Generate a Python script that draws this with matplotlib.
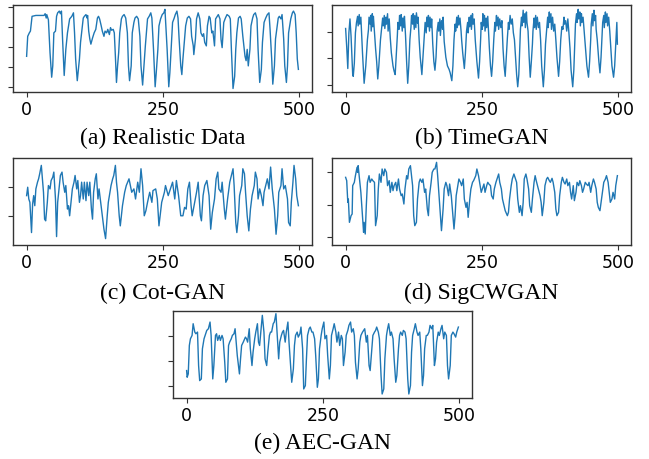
import matplotlib
matplotlib.use("Agg")
import matplotlib.pyplot as plt

titles = ["(a) Realistic Data", "(b) TimeGAN", "(c) Cot-GAN", "(d) SigCWGAN", "(e) AEC-GAN"]
xticks = [0, 250, 500]

realistic = [(0,41),(2,64),(5,68),(7,70),(10,87),(17,88),(26,88),(32,88),(34,90),(36,85),(37,89),(40,83),(43,45),(46,17),(48,30),(50,68),(53,70),(55,87),(57,91),(60,93),(62,90),(64,93),(66,61),(69,19),(72,49),(75,68),(77,76),(79,84),(83,87),(86,91),(88,68),(90,38),(93,13),(97,38),(99,57),(101,68),(104,85),(106,87),(109,89),(111,85),(112,88),(114,70),(116,61),(118,55),(121,62),(124,68),(127,72),(130,85),(132,87),(134,84),(137,76),(139,70),(142,64),(144,70),(147,68),(149,72),(152,66),(154,74),(156,71),(159,72),(161,68),(163,41),(165,11),(167,30),(169,45),(171,68),(174,84),(176,87),(179,89),(182,85),(185,68),(187,30),(189,13),(192,30),(194,68),(197,80),(199,85),(202,87),(205,84),(208,64),(210,30),(213,8),(215,26),(218,53),(220,68),(222,84),(225,87),(228,91),(230,85),(233,49),(236,6),(238,22),(241,49),(243,76),(246,84),(249,89),(252,91),(254,95),(255,84),(258,49),(261,6),(263,22),(266,57),(268,80),(271,85),(273,89),(276,93),(278,85),(280,61),(283,30),(285,20),(287,38),(290,61),(292,76),(295,85),(298,87),(301,84),(303,64),(306,53),(307,43),(310,61),(312,84),(315,91),(318,84),(320,68),(323,64),(325,67),(327,57),(330,53),(332,76),(335,87),(337,85),(340,68),(342,70),(345,53),(347,84),(350,87),(352,89),(355,84),(357,60),(359,51),(362,80),(365,85),(368,89),(372,87),(374,84),(376,49),(379,4),(382,18),(384,49),(386,68),(389,85),(392,87),(394,84),(397,64),(399,53),(401,41),(403,36),(405,49),(407,30),(410,49),(412,76),(415,85),(417,89),(420,91),(423,84),(425,49),(428,11),(431,26),(433,57),(436,80),(439,85),(442,89),(445,91),(447,72),(450,38),(452,9),(455,30),(457,61),(460,76),(462,85),(464,87),(467,84),(469,89),(472,61),(474,30),(477,11),(479,30),(481,68),(485,84),(488,91),(490,93),(493,89),(495,68),(497,38),(499,26)]

timegan = [(0,73),(2,52),(4,27),(6,68),(8,84),(10,64),(13,20),(14,18),(16,33),(18,68),(20,80),(22,87),(23,76),(25,89),(26,78),(28,86),(29,72),(31,45),(34,10),(37,30),(40,60),(42,72),(43,86),(45,78),(46,88),(47,70),(49,90),(50,75),(51,87),(53,68),(55,50),(57,35),(59,15),(61,30),(64,60),(66,72),(68,85),(69,76),(71,88),(72,73),(74,86),(75,78),(77,90),(78,70),(80,84),(82,62),(84,45),(87,30),(89,24),(91,20),(93,42),(95,65),(96,80),(98,72),(99,88),(101,76),(102,89),(104,70),(105,85),(107,74),(108,87),(110,65),(112,35),(114,10),(116,30),(118,60),(120,75),(121,88),(123,78),(124,90),(126,72),(127,88),(129,74),(130,91),(132,79),(133,86),(135,60),(137,40),(140,20),(142,40),(144,58),(146,80),(148,68),(149,86),(151,75),(152,88),(154,70),(155,86),(157,74),(158,84),(160,55),(162,35),(164,25),(166,40),(168,70),(170,80),(171,70),(173,84),(174,65),(176,82),(178,72),(179,86),(181,58),(184,40),(187,30),(190,26),(192,22),(195,13),(197,30),(199,60),(201,78),(202,70),(204,86),(205,74),(207,88),(208,77),(210,85),(212,70),(213,60),(215,45),(218,27),(220,45),(222,70),(224,80),(225,68),(227,86),(228,75),(230,88),(231,72),(233,90),(234,78),(236,84),(238,60),(241,35),(244,16),(246,35),(248,62),(249,80),(251,72),(252,90),(253,76),(255,88),(256,70),(258,85),(259,74),(261,87),(262,75),(264,50),(266,30),(268,18),(270,35),(272,60),(274,80),(275,70),(277,88),(278,76),(280,86),(281,72),(283,84),(285,74),(287,82),(289,50),(291,30),(293,18),(295,40),(297,62),(299,80),(300,72),(302,88),(304,78),(306,84),(308,68),(310,60),(312,40),(314,20),(316,6),(318,20),(320,55),(321,72),(323,86),(324,76),(326,94),(327,80),(329,90),(330,74),(332,92),(333,80),(335,70),(337,40),(339,17),(341,35),(343,55),(344,70),(346,85),(347,74),(349,88),(350,72),(352,86),(354,74),(356,80),(358,60),(360,30),(363,6),(365,25),(367,55),(369,70),(371,86),(372,74),(374,92),(375,80),(377,90),(378,72),(380,86),(382,70),(384,78),(386,60),(388,40),(391,18),(393,35),(395,60),(397,75),(399,72),(401,86),(402,78),(404,82),(406,70),(408,84),(410,68),(412,50),(414,25),(417,6),(419,25),(421,60),(422,78),(424,90),(425,80),(427,95),(428,84),(430,92),(431,76),(433,90),(434,80),(436,86),(438,70),(440,55),(443,30),(446,17),(448,35),(450,60),(451,78),(453,90),(454,76),(456,94),(457,82),(459,88),(460,72),(462,60),(465,35),(467,22),(469,40),(471,65),(472,80),(474,88),(475,74),(477,92),(478,80),(480,90),(481,76),(483,86),(485,70),(487,50),(489,30),(492,17),(494,30),(496,55),(497,70),(498,80),(499,55)]

cotgan = [(0,147),(2,172),(4,137),(6,127),(9,37),(11,122),(13,147),(15,117),(17,167),(20,187),(22,197),(24,212),(27,237),(29,197),(31,157),(33,77),(35,72),(38,127),(40,177),(43,167),(45,192),(48,202),(50,217),(53,137),(55,25),(57,127),(60,177),(62,207),(65,217),(67,187),(70,157),(72,177),(75,107),(77,117),(79,87),(82,137),(84,167),(87,187),(89,207),(92,167),(94,192),(97,127),(99,147),(101,187),(104,137),(106,187),(109,132),(111,187),(114,147),(116,187),(119,107),(121,77),(123,157),(126,197),(128,212),(131,137),(133,167),(136,127),(139,87),(142,47),(145,19),(148,87),(150,127),(153,157),(155,177),(158,197),(160,207),(163,237),(165,187),(167,157),(170,87),(172,57),(176,117),(180,157),(183,177),(188,197),(193,157),(197,167),(200,137),(204,187),(207,157),(210,227),(213,177),(216,87),(219,102),(222,127),(226,157),(230,127),(232,162),(237,167),(240,137),(243,57),(248,127),(253,157),(255,177),(260,147),(265,172),(268,187),(272,137),(275,192),(279,147),(283,87),(287,87),(290,112),(293,107),(296,167),(299,187),(302,117),(304,87),(308,122),(312,157),(315,187),(319,87),(321,72),(324,147),(327,177),(331,192),(335,147),(338,47),(341,97),(345,137),(348,197),(351,217),(353,167),(357,157),(359,187),(363,107),(365,77),(369,137),(373,187),(376,207),(379,227),(381,177),(384,67),(386,37),(389,87),(391,147),(395,177),(397,227),(400,212),(402,157),(405,87),(408,42),(411,107),(414,147),(418,177),(420,217),(423,197),(425,137),(428,167),(431,147),(434,117),(436,157),(439,177),(442,197),(445,167),(448,232),(451,167),(455,107),(458,32),(461,87),(463,157),(467,177),(469,227),(472,167),(475,177),(479,137),(481,67),(484,57),(486,127),(489,187),(491,237),(494,197),(496,147),(499,117)]

sigcwgan = [(0,203),(2,193),(4,128),(5,138),(7,68),(10,88),(12,93),(13,178),(16,188),(18,208),(21,233),(22,218),(23,238),(26,188),(28,158),(31,88),(33,38),(34,68),(36,33),(38,118),(40,188),(43,208),(45,188),(48,198),(50,193),(53,188),(55,58),(58,88),(60,168),(62,213),(65,188),(67,228),(70,208),(72,228),(75,218),(77,178),(80,193),(82,158),(85,188),(87,163),(89,178),(92,188),(94,163),(97,198),(99,168),(102,148),(104,153),(107,123),(109,168),(112,208),(114,198),(116,228),(119,238),(121,208),(123,178),(125,88),(127,58),(130,68),(132,138),(135,188),(137,198),(140,188),(142,198),(145,158),(147,168),(150,108),(152,88),(154,148),(157,188),(159,218),(162,228),(164,228),(167,248),(169,208),(172,138),(174,88),(176,43),(179,108),(181,168),(184,188),(186,178),(189,148),(191,183),(194,148),(196,108),(199,48),(201,88),(203,148),(206,178),(208,198),(211,188),(213,178),(216,198),(218,138),(221,113),(223,128),(225,83),(228,138),(230,168),(233,188),(235,193),(239,208),(241,228),(244,208),(246,188),(249,158),(251,168),(254,183),(256,158),(259,178),(261,188),(263,183),(266,178),(268,148),(271,138),(273,168),(276,188),(278,198),(281,213),(283,188),(286,168),(288,138),(293,103),(297,88),(299,98),(301,138),(304,178),(306,198),(309,213),(311,203),(314,188),(316,138),(319,98),(321,118),(324,88),(326,128),(328,198),(331,213),(333,198),(336,168),(338,118),(341,98),(343,138),(346,188),(348,208),(350,193),(354,168),(357,148),(359,128),(361,88),(364,128),(366,178),(369,198),(371,203),(374,193),(376,188),(379,200),(381,188),(384,158),(386,108),(388,88),(391,98),(393,148),(396,188),(398,203),(401,188),(403,183),(406,198),(408,178),(411,188),(413,158),(415,138),(418,178),(420,133),(423,158),(425,188),(428,178),(430,193),(433,178),(435,158),(437,168),(440,188),(442,183),(445,178),(447,188),(450,158),(452,178),(455,198),(457,188),(460,168),(462,128),(464,113),(467,103),(469,128),(472,168),(474,188),(477,198),(479,208),(482,188),(484,158),(486,128),(489,138),(491,158),(494,138),(496,178),(499,208)]

aecgan = [(0,82),(1,62),(3,72),(5,157),(7,177),(10,187),(12,222),(15,197),(17,192),(20,197),(22,97),(24,52),(27,57),(29,147),(32,177),(34,187),(37,202),(40,207),(43,227),(45,187),(48,57),(50,97),(53,187),(55,192),(57,172),(60,187),(62,172),(65,187),(67,177),(70,107),(72,47),(75,57),(77,157),(79,167),(82,177),(84,187),(87,192),(89,207),(93,127),(97,72),(99,117),(101,157),(104,167),(108,182),(110,177),(112,167),(115,207),(117,147),(120,97),(122,137),(125,177),(127,197),(130,222),(132,167),(134,157),(137,212),(139,247),(142,197),(144,117),(147,97),(149,137),(152,187),(154,197),(156,197),(159,222),(161,227),(164,252),(166,197),(169,117),(171,167),(174,187),(176,197),(178,202),(181,167),(183,197),(186,227),(188,167),(191,97),(193,47),(196,87),(198,157),(200,187),(203,197),(205,182),(208,192),(210,212),(213,147),(215,27),(218,37),(220,117),(222,187),(225,207),(227,212),(230,197),(232,197),(235,177),(237,127),(240,32),(242,57),(244,147),(247,187),(249,207),(252,227),(254,177),(257,187),(259,127),(262,57),(264,97),(266,187),(269,207),(271,222),(274,197),(276,167),(279,197),(281,157),(284,187),(286,177),(288,97),(291,137),(293,187),(296,202),(298,217),(301,227),(303,197),(306,207),(308,187),(310,107),(313,57),(315,87),(318,167),(320,187),(323,197),(325,202),(327,207),(330,167),(332,187),(335,97),(337,82),(340,147),(342,187),(345,197),(347,202),(349,212),(352,197),(354,177),(357,67),(359,12),(362,27),(364,117),(367,187),(369,207),(371,222),(374,187),(376,197),(379,177),(381,117),(384,47),(386,67),(389,147),(391,187),(393,197),(396,187),(398,202),(401,197),(403,177),(406,57),(408,12),(411,37),(413,137),(415,187),(418,207),(420,222),(423,197),(425,187),(428,197),(430,147),(433,37),(435,67),(437,147),(440,187),(442,187),(445,197),(447,217),(450,207),(452,217),(455,97),(457,117),(459,167),(462,197),(464,187),(467,207),(469,217),(472,177),(474,197),(477,187),(479,97),(481,57),(484,97),(486,187),(489,197),(491,192),(494,182),(496,197),(499,212)]

series = [realistic, timegan, cotgan, sigcwgan, aecgan]
ylims = [(0, 100), (0, 100), (0, 259), (0, 261), (0, 260)]
yticks = [[6, 29, 52, 75, 98], [8, 38.6, 69], [87, 174], [23, 121, 220], [37, 111, 185]]

W, H = 649, 460
fig = plt.figure(figsize=(W / 100, H / 100), dpi=100)

# axes boxes in pixels: left, top, right, bottom
boxes = [(13, 6, 312, 93), (332, 6, 631, 93), (13, 159, 312, 246), (332, 159, 631, 246), (173, 312, 472, 399)]
cap_y = [138, 138, 293, 293, 443]

for i, (data, title) in enumerate(zip(series, titles)):
    l, t, r, b = boxes[i]
    ax = fig.add_axes([l / W, 1 - b / H, (r - l) / W, (b - t) / H])
    xs = [p[0] for p in data]
    ys = [p[1] for p in data]
    ax.plot(xs, ys, color="#1f77b4", lw=1.0)
    ax.set_ylim(*ylims[i])
    ax.set_xlim(-25, 524)
    ax.set_xticks(xticks)
    ax.set_xticklabels([str(v) for v in xticks], fontsize=12.5, family="DejaVu Sans")
    ax.set_yticks(yticks[i])
    ax.set_yticklabels([])
    for s in ax.spines.values():
        s.set_color("#333333")
        s.set_linewidth(1.0)
    ax.tick_params(colors="#333333", labelcolor="black", pad=2.5)
    fig.text((l + r) / 2 / W, 1 - cap_y[i] / H, title, ha="center", va="center",
             fontsize=17, family="Liberation Serif")

fig.savefig("out.png", dpi=100)
